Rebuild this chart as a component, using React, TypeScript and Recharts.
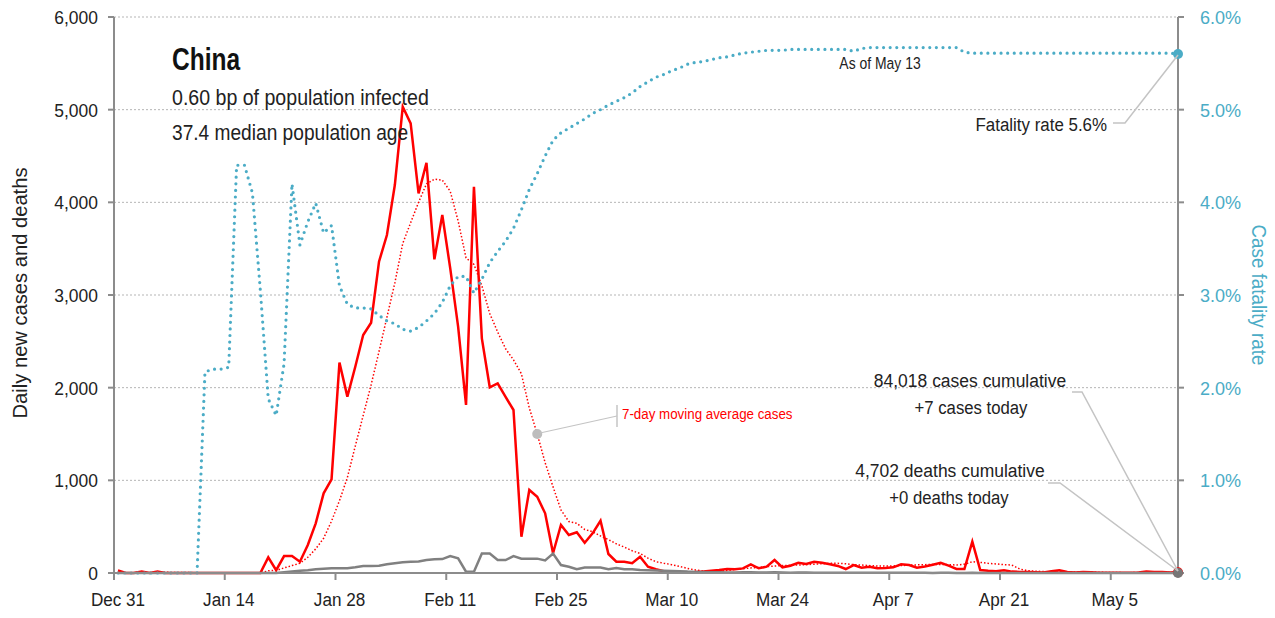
import React from "react";
import { LineChart, Line, XAxis, YAxis, CartesianGrid, ReferenceDot } from "recharts";

const FONT = "'Liberation Sans', Arial, sans-serif";
const TEAL = "#4bacc6";
const RED = "#ff0000";
const GRAY = "#808080";
const INK = "#222222";
const AXIS = "#8c8c8c";

// x ticks: day index from Dec 31
const tickDays = [0, 14, 28, 42, 56, 70, 84, 98, 112, 126];
const tickLabels = ["Dec 31", "Jan 14", "Jan 28", "Feb 11", "Feb 25", "Mar 10", "Mar 24", "Apr 7", "Apr 21", "May 5"];
const caseTicks = [0, 1000, 2000, 3000, 4000, 5000, 6000];
const rateTicks = [0, 1, 2, 3, 4, 5, 6];

// daily new cases, Dec 31 .. May 13
const cases = [
  27, 0, 0, 17, 0, 15, 0, 0, 0, 0,
  0, 0, 0, 0, 0, 0, 0, 0, 0, 169,
  30, 183, 183, 122, 302, 536, 860, 1011, 2270, 1903,
  2226, 2568, 2701, 3360, 3647, 4187, 5031, 4852, 4097, 4427,
  3385, 3863, 3290, 2658, 1813, 4168, 2532, 2004, 2047, 1900,
  1759, 391, 896, 823, 644, 213, 518, 410, 440, 327,
  428, 564, 205, 122, 122, 105, 176, 68, 40, 20,
  15, 10, 8, 10, 15, 25, 32, 43, 40, 50,
  94, 51, 68, 140, 61, 79, 111, 97, 122, 111,
  94, 76, 43, 86, 57, 68, 51, 55, 61, 94,
  86, 57, 70, 90, 111, 79, 43, 43, 338, 32,
  25, 20, 30, 15, 12, 10, 8, 5, 20, 30,
  10, 5, 12, 8, 3, 2, 2, 3, 2, 5,
  15, 12, 10, 5, 7,
];

// 7-day moving average of cases
const avgCases = [
  4, 4, 4, 6, 6, 8, 8, 5, 5, 5,
  2, 2, 0, 0, 0, 0, 0, 0, 0, 24,
  28, 55, 80, 105, 170, 260, 375, 560, 780, 1030,
  1370, 1700, 2030, 2390, 2760, 3130, 3557, 3780, 4000, 4200,
  4250, 4240, 4120, 3800, 3400, 3330, 3100, 2800, 2600, 2420,
  2300, 2150, 1780, 1500, 1190, 930, 680, 555, 536, 470,
  445, 400, 360, 315, 280, 240, 210, 160, 122, 105,
  90, 70, 50, 32, 22, 20, 22, 28, 38, 45,
  55, 60, 68, 75, 80, 83, 86, 90, 95, 100,
  104, 104, 100, 90, 86, 80, 76, 75, 76, 80,
  85, 88, 90, 92, 92, 90, 86, 95, 122, 115,
  104, 98, 90, 86, 43, 25, 20, 15, 14, 14,
  12, 12, 12, 10, 8, 6, 5, 4, 4, 5,
  6, 7, 8, 8, 8,
];

// daily new deaths
const deaths = [
  0, 0, 0, 0, 0, 0, 0, 0, 0, 0,
  0, 0, 0, 0, 0, 0, 0, 0, 0, 0,
  0, 8, 17, 25, 30, 40, 45, 50, 50, 52,
  62, 75, 75, 78, 95, 105, 115, 122, 124, 140,
  148, 150, 183, 159, 14, 14, 210, 210, 140, 140,
  183, 155, 155, 155, 135, 210, 86, 68, 40, 60,
  60, 60, 40, 54, 40, 40, 32, 30, 28, 25,
  22, 20, 15, 12, 10, 8, 7, 6, 6, 8,
  7, 5, 6, 7, 5, 4, 6, 5, 4, 3,
  4, 3, 3, 4, 3, 2, 3, 3, 2, 2,
  3, 2, 2, 1, 2, 2, 1, 1, 2, 1,
  1, 0, 1, 0, 0, 1, 0, 0, 0, 0,
  0, 0, 0, 0, 0, 0, 0, 0, 0, 0,
  0, 0, 0, 0, 0,
];

// case fatality rate, %
const fatality = [
  0, 0, 0, 0, 0, 0, 0, 0, 0, 0,
  0, 2.17, 2.2, 2.2, 2.22, 4.4, 4.4, 4.1, 3.05, 1.88,
  1.7, 2.26, 4.2, 3.54, 3.79, 3.99, 3.67, 3.75, 3.1, 2.9,
  2.86, 2.86, 2.85, 2.78, 2.72, 2.69, 2.63, 2.61, 2.65, 2.72,
  2.8, 2.92, 3.1, 3.2, 3.2, 3.02, 3.17, 3.35, 3.47, 3.58,
  3.72, 3.92, 4.14, 4.31, 4.5, 4.67, 4.75, 4.8, 4.85, 4.9,
  4.96, 5.0, 5.05, 5.09, 5.13, 5.18, 5.25, 5.3, 5.35, 5.38,
  5.42, 5.45, 5.49, 5.51, 5.52, 5.54, 5.56, 5.57, 5.59, 5.61,
  5.62, 5.63, 5.64, 5.64, 5.64, 5.65, 5.65, 5.65, 5.65, 5.65,
  5.65, 5.65, 5.65, 5.63, 5.66, 5.67, 5.67, 5.67, 5.67, 5.67,
  5.67, 5.67, 5.67, 5.67, 5.67, 5.67, 5.67, 5.62, 5.61, 5.61,
  5.61, 5.61, 5.61, 5.61, 5.61, 5.61, 5.61, 5.61, 5.61, 5.61,
  5.61, 5.61, 5.61, 5.61, 5.61, 5.61, 5.61, 5.61, 5.61, 5.61,
  5.61, 5.61, 5.61, 5.61, 5.6,
];

// points sit in the middle of each day
const data = cases.map((c, i) => ({
  x: i + 0.5,
  cases: c,
  avg: avgCases[i],
  deaths: deaths[i],
  rate: fatality[i],
}));
const last = data.length - 1;
const calloutDay = 53;

// condensed-looking text: squeeze horizontally around the anchor
const T = ({ x, y, size, sx = 0.9, anchor = "start", fill = INK, weight = 400, rotate = 0, children }: any) => (
  <text
    transform={`translate(${x},${y}) rotate(${rotate}) scale(${sx},1)`}
    textAnchor={anchor}
    fontSize={size}
    fontWeight={weight}
    fill={fill}
  >
    {children}
  </text>
);

const XTick = ({ x, y, payload }: any) => (
  <T x={x + 4} y={y + 24} size={19} sx={0.9} anchor="middle">
    {tickLabels[tickDays.indexOf(payload.value)]}
  </T>
);

const LeftTick = ({ x, y, payload }: any) => (
  <T x={x} y={y + 7} size={19} sx={0.92} anchor="end">
    {payload.value.toLocaleString("en-US")}
  </T>
);

const RightTick = ({ x, y, payload }: any) => (
  <T x={x} y={y + 7} size={19} sx={0.95} fill={TEAL}>
    {`${payload.value.toFixed(1)}%`}
  </T>
);

const App = () => {
  return (
    <div style={{ position: "absolute", left: 0, top: 0, width: 1275, height: 618, fontFamily: FONT, background: "#fff" }}>
      <LineChart width={1275} height={618} data={data} margin={{ top: 17, right: 0, bottom: 0, left: 0 }}>
        <CartesianGrid vertical={false} yAxisId="left" stroke="#b5b5b5" strokeDasharray="2 2" />
        <XAxis
          dataKey="x"
          type="number"
          domain={[0, 134.5]}
          ticks={tickDays}
          height={45}
          tickSize={7}
          stroke={AXIS}
          strokeWidth={2}
          tick={<XTick />}
          interval={0}
        />
        <YAxis
          yAxisId="left"
          domain={[0, 6000]}
          ticks={caseTicks}
          width={114}
          tickSize={6}
          tickMargin={10}
          stroke={AXIS}
          strokeWidth={2}
          tick={<LeftTick />}
        />
        <YAxis
          yAxisId="right"
          orientation="right"
          domain={[0, 6]}
          ticks={rateTicks}
          width={97}
          tickSize={6}
          tickMargin={16}
          stroke={AXIS}
          strokeWidth={2}
          tick={<RightTick />}
        />
        <Line yAxisId="left" type="linear" dataKey="avg" stroke={RED} strokeWidth={1.5} strokeDasharray="1.5 2" dot={false} isAnimationActive={false} />
        <Line yAxisId="left" type="linear" dataKey="cases" stroke={RED} strokeWidth={2.5} dot={false} isAnimationActive={false} />
        <Line yAxisId="left" type="linear" dataKey="deaths" stroke={GRAY} strokeWidth={2.5} dot={false} isAnimationActive={false} />
        <Line yAxisId="right" type="linear" dataKey="rate" stroke={TEAL} strokeWidth={3.2} strokeDasharray="0 6.6" strokeLinecap="round" dot={false} isAnimationActive={false} />
        <ReferenceDot yAxisId="left" x={calloutDay + 0.5} y={avgCases[calloutDay]} r={5} fill="#bdbdbd" stroke="none" ifOverflow="visible" />
        <ReferenceDot yAxisId="left" x={data[last].x} y={cases[last]} r={5} fill={RED} stroke="none" ifOverflow="visible" />
        <ReferenceDot yAxisId="left" x={data[last].x} y={deaths[last]} r={5} fill="#777" stroke="none" ifOverflow="visible" />
        <ReferenceDot yAxisId="right" x={data[last].x} y={fatality[last]} r={5} fill={TEAL} stroke="none" ifOverflow="visible" />
      </LineChart>
      <svg width={1275} height={618} style={{ position: "absolute", left: 0, top: 0, pointerEvents: "none" }}>
        <T x={27} y={293} size={21} sx={0.96} rotate={-90} anchor="middle">Daily new cases and deaths</T>
        <T x={1252} y={295} size={20} sx={0.94} rotate={90} anchor="middle" fill={TEAL}>Case fatality rate</T>

        <T x={172} y={70} size={31} sx={0.79} weight={700} fill="#111">China</T>
        <T x={172} y={105} size={22} sx={0.89}>0.60 bp of population infected</T>
        <T x={172} y={140} size={22} sx={0.87}>37.4 median population age</T>

        <T x={880} y={69} size={17} sx={0.82} anchor="middle">As of May 13</T>
        <T x={1107} y={131} size={19} sx={0.89} anchor="end">Fatality rate 5.6%</T>
        <polyline points="1113,123 1125,123 1178,55" fill="none" stroke="#c4c4c4" strokeWidth={1.5} />

        <line x1={617} y1={405} x2={617} y2={427} stroke="#c4c4c4" strokeWidth={1.5} />
        <line x1={617} y1={416} x2={540} y2={433} stroke="#c4c4c4" strokeWidth={1.2} />
        <T x={622} y={419} size={15} sx={0.89} fill={RED}>7-day moving average cases</T>

        <T x={970} y={387} size={19} sx={0.92} anchor="middle">84,018 cases cumulative</T>
        <T x={971} y={414} size={19} sx={0.88} anchor="middle">+7 cases today</T>
        <polyline points="1072,392 1082,392 1178,571" fill="none" stroke="#c4c4c4" strokeWidth={1.5} />

        <T x={950} y={477} size={19} sx={0.92} anchor="middle">4,702 deaths cumulative</T>
        <T x={949} y={504} size={19} sx={0.88} anchor="middle">+0 deaths today</T>
        <polyline points="1048,483 1060,483 1178,571" fill="none" stroke="#c4c4c4" strokeWidth={1.5} />
      </svg>
    </div>
  );
};

export default App;
